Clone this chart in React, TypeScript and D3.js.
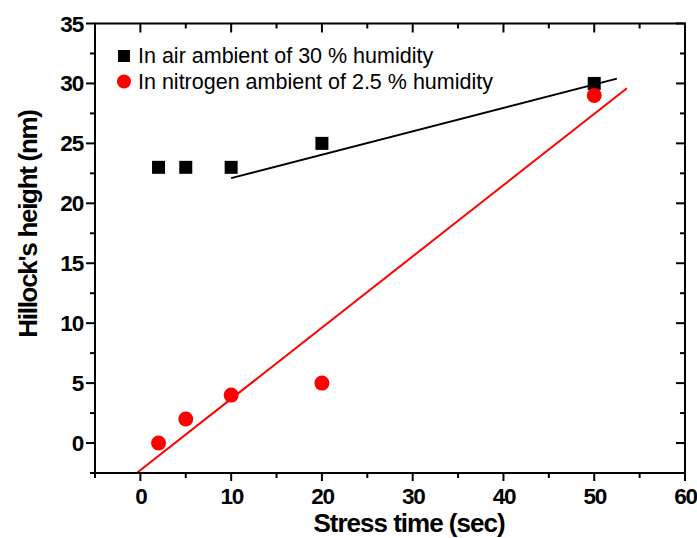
import React from "react";
import * as d3 from "d3";

const airX = [2, 5, 10, 20, 50];
const airY = [23, 23, 23, 25, 30];
const n2X = [2, 5, 10, 20, 50];
const n2Y = [0, 2, 4, 5, 29];
const airFitX = [10, 52.5];
const airFitY = [22.1, 30.4];
const n2FitX = [-0.4, 53.6];
const n2FitY = [-2.5, 29.6];
const xTicks = [0, 10, 20, 30, 40, 50, 60];
const xMinor = [-5, 5, 15, 25, 35, 45, 55];
const yTicks = [0, 5, 10, 15, 20, 25, 30, 35];
const yMinor = [-2.5, 2.5, 7.5, 12.5, 17.5, 22.5, 27.5, 32.5];
const legendLabels = ["In air ambient of 30 % humidity", "In nitrogen ambient of 2.5 % humidity"];

export default function App() {
  const W = 697, H = 538;
  const L = 95, R = 685, T = 23.5, B = 473;
  const x = d3.scaleLinear().domain([-5, 60]).range([L, R]);
  const y = d3.scaleLinear().domain([-2.5, 35]).range([B, T]);
  const line = d3.line<[number, number]>().x(d => x(d[0])).y(d => y(d[1]));
  const font = "Arial, 'Liberation Sans', sans-serif";
  const sq = 13, cr = 7.5;
  return (
    <svg width={W} height={H} style={{ position: "absolute", left: 0, top: 0 }} fontFamily={font}>
      <rect width={W} height={H} fill="#fff" />
      <path d={line(airFitX.map((v, i) => [v, airFitY[i]]) as any) || ""} stroke="#000" strokeWidth={2} fill="none" />
      <path d={line(n2FitX.map((v, i) => [v, n2FitY[i]]) as any) || ""} stroke="#ff0000" strokeWidth={2} fill="none" />
      {airX.map((v, i) => (
        <rect key={"a" + i} x={x(v) - sq / 2} y={y(airY[i]) - sq / 2} width={sq} height={sq} fill="#000" />
      ))}
      {n2X.map((v, i) => (
        <circle key={"n" + i} cx={x(v)} cy={y(n2Y[i])} r={cr} fill="#ff0000" />
      ))}
      <rect x={L} y={T} width={R - L} height={B - T} fill="none" stroke="#000" strokeWidth={2} />
      {xTicks.map(t => (
        <g key={"xb" + t}>
          <line x1={x(t)} x2={x(t)} y1={B} y2={B + 8} stroke="#000" strokeWidth={2} />
          <line x1={x(t)} x2={x(t)} y1={T} y2={T + 9} stroke="#000" strokeWidth={2} />
          <text x={x(t) + 0.6} y={504} textAnchor="middle" fontSize={22.5} fontWeight="bold" letterSpacing={-1.2}>{t}</text>
        </g>
      ))}
      {xMinor.map(t => (
        <g key={"xm" + t}>
          <line x1={x(t)} x2={x(t)} y1={B} y2={B + 5} stroke="#000" strokeWidth={2} />
          <line x1={x(t)} x2={x(t)} y1={T} y2={T + 5} stroke="#000" strokeWidth={2} />
        </g>
      ))}
      {yTicks.map(t => (
        <g key={"yl" + t}>
          <line x1={L - 9} x2={L} y1={y(t)} y2={y(t)} stroke="#000" strokeWidth={2} />
          <line x1={R - 9} x2={R} y1={y(t)} y2={y(t)} stroke="#000" strokeWidth={2} />
          <text x={83} y={y(t) + 8} textAnchor="end" fontSize={22.5} fontWeight="bold" letterSpacing={-1.2}>{t}</text>
        </g>
      ))}
      {yMinor.map(t => (
        <g key={"ym" + t}>
          <line x1={L - 5} x2={L} y1={y(t)} y2={y(t)} stroke="#000" strokeWidth={2} />
          <line x1={R - 5} x2={R} y1={y(t)} y2={y(t)} stroke="#000" strokeWidth={2} />
        </g>
      ))}
      <text x={409} y={532} textAnchor="middle" fontSize={26} fontWeight="bold" letterSpacing={-1}>Stress time (sec)</text>
      <text transform={`translate(37,${224}) rotate(-90)`} textAnchor="middle" fontSize={26} fontWeight="bold" letterSpacing={-1.3}>Hillock's height (nm)</text>
      <rect x={118} y={50} width={12} height={12} fill="#000" />
      <text x={138} y={63} fontSize={21.5}>{legendLabels[0]}</text>
      <circle cx={124} cy={81.5} r={7} fill="#ff0000" />
      <text x={138} y={88.5} fontSize={21.5}>{legendLabels[1]}</text>
    </svg>
  );
}
